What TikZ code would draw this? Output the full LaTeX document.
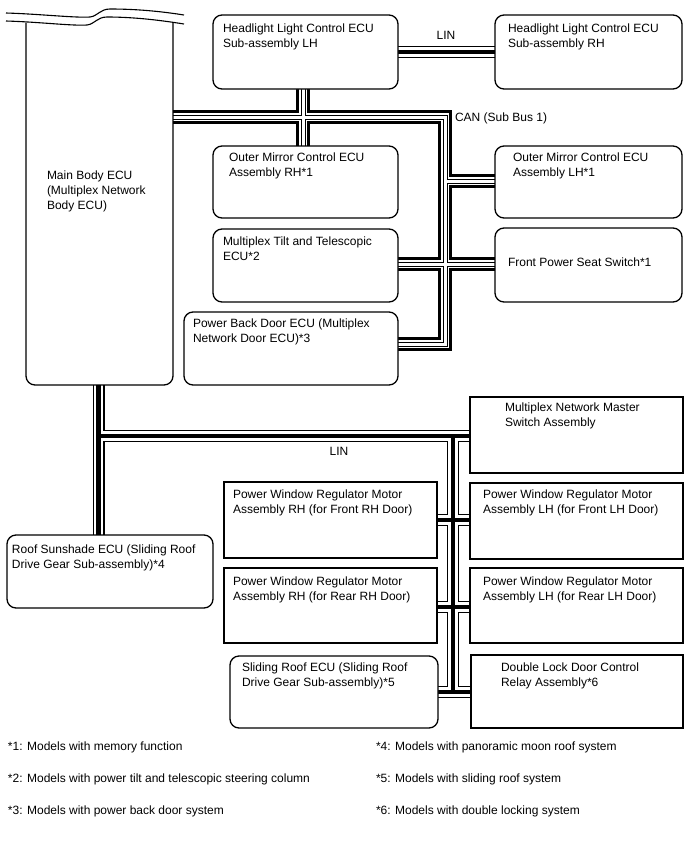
\documentclass[tikz,border=0pt]{standalone}
\usepackage{fontspec}
\setmainfont{Liberation Sans}
\usetikzlibrary{calc}
\pgfdeclarelayer{bg}
\pgfdeclarelayer{bus}
\pgfsetlayers{bg,bus,main}
\newcommand\canroutes[1]{%
  \draw[#1] (mb.east |- cT) -- (cT) -- (cB) -- (pbd.east |- cB);
  \draw[#1] (hlL.south -| cX) -- (omR.north -| cX);
  \draw[#1] (c1) -- (omL.west |- c1);
  \draw[#1] (tilt.east |- c2) -- (seat.west |- c2);
}
\newcommand\linroutes[1]{%
  \draw[#1] (hlL.east |- l0) -- (hlR.west |- l0);
  \draw[#1] (mb.south -| lA) -- (roof.north -| lA);
  \draw[#1] (lA) -- (master.west |- lA);
  \draw[#1] (lB) -- (lE);
  \draw[#1] (pwRF.east |- lF) -- (pwLF.west |- lF);
  \draw[#1] (pwRR.east |- lR) -- (pwLR.west |- lR);
  \draw[#1] (slide.east |- lE) -- (dlock.west |- lE);
}
\begin{document}
\begin{tikzpicture}[x=1pt,y=-1pt,
  box/.style={draw, line width=1.3, fill=white, inner sep=0, outer sep=0, anchor=north west},
  rbox/.style={box, rounded corners=9},
  txt/.style={anchor=base west, inner sep=0, outer sep=0, align=left, font=\fontsize{12}{15}\selectfont},
  lbl/.style={inner sep=0, outer sep=0, font=\fontsize{12}{15}\selectfont},
  note/.style={anchor=base west, inner sep=0, outer sep=0, font=\fontsize{12}{14}\selectfont}]
\begin{pgfonlayer}{bg}
\fill[white] (0,0) rectangle (688,852);
\end{pgfonlayer}
\useasboundingbox (0,0) rectangle (688,852);

% Main Body ECU
\node[draw=none, inner sep=0, outer sep=0, minimum width=147, minimum height=362, anchor=south west] (mb) at (26,385) {};
\draw[line width=1.3, rounded corners=9] (26,22.5) -- (mb.south west) -- (mb.south east) -- (173,23);
\draw[line width=1.1] (6,13) .. controls (40,14) and (75,18) .. (90,17) .. controls (98,16) and (100,9) .. (110,9) .. controls (140,9) and (165,12) .. (184,15);
\draw[line width=1.1] (6,21) .. controls (40,22) and (72,26) .. (87,25) .. controls (95,24) and (97,17) .. (107,17) .. controls (137,17) and (165,21) .. (184,24);
\node[txt] (mbt) at (47,209) {Main Body ECU\\(Multiplex Network\\Body ECU)};

% boxes
\node[rbox, minimum width=185, minimum height=74] (hlL) at (213,15) {};
\node[rbox, minimum width=187, minimum height=74] (hlR) at (495,15) {};
\node[rbox, minimum width=185, minimum height=72] (omR) at (213,146) {};
\node[rbox, minimum width=187, minimum height=72] (omL) at (495,146) {};
\node[rbox, minimum width=185, minimum height=73] (tilt) at (213,229) {};
\node[rbox, minimum width=187, minimum height=74] (seat) at (495,228) {};
\node[rbox, minimum width=214, minimum height=73] (pbd) at (184,312) {};
\node[box, minimum width=213, minimum height=76] (master) at (470,397) {};
\node[box, minimum width=213, minimum height=76] (pwRF) at (224,482) {};
\node[box, minimum width=213, minimum height=76] (pwLF) at (470,483) {};
\node[rbox, minimum width=206, minimum height=73] (roof) at (7,535) {};
\node[box, minimum width=213, minimum height=75] (pwRR) at (224,568) {};
\node[box, minimum width=213, minimum height=75] (pwLR) at (470,568) {};
\node[rbox, minimum width=208, minimum height=72] (slide) at (230,656) {};
\node[box, minimum width=212, minimum height=73] (dlock) at (471,655) {};

% texts (anchor = baseline of the last line)
\node[txt] (hlLt) at (223,47) {Headlight Light Control ECU\\Sub-assembly LH};
\node[txt] (hlRt) at (508,47) {Headlight Light Control ECU\\Sub-assembly RH};
\node[txt] (omRt) at (229,176) {Outer Mirror Control ECU\\Assembly RH*1};
\node[txt] (omLt) at (513,176) {Outer Mirror Control ECU\\Assembly LH*1};
\node[txt] (tiltt) at (223,260) {Multiplex Tilt and Telescopic\\ECU*2};
\node[txt] (seatt) at (508,266) {Front Power Seat Switch*1};
\node[txt] (pbdt) at (193,342) {Power Back Door ECU (Multiplex\\Network Door ECU)*3};
\node[txt] (mastert) at (505,426) {Multiplex Network Master\\Switch Assembly};
\node[txt] (pwRFt) at (233,513) {Power Window Regulator Motor\\Assembly RH (for Front RH Door)};
\node[txt] (pwLFt) at (483,513) {Power Window Regulator Motor\\Assembly LH (for Front LH Door)};
\node[txt] (rooft) at (12,568) {Roof Sunshade ECU (Sliding Roof\\Drive Gear Sub-assembly)*4};
\node[txt] (pwRRt) at (233,600) {Power Window Regulator Motor\\Assembly RH (for Rear RH Door)};
\node[txt] (pwLRt) at (483,600) {Power Window Regulator Motor\\Assembly LH (for Rear LH Door)};
\node[txt] (slidet) at (242,686) {Sliding Roof ECU (Sliding Roof\\Drive Gear Sub-assembly)*5};
\node[txt] (dlockt) at (501,686) {Double Lock Door Control\\Relay Assembly*6};

% bus labels
\node[lbl, anchor=base] (lin1) at (446,39) {LIN};
\node[lbl, anchor=base west] (can) at (455,121) {CAN (Sub Bus 1)};
\node[lbl, anchor=base] (lin2) at (339,455) {LIN};

% footnotes
\node[note] (n1) at (8,750) {*1: Models with memory function};
\node[note] (n2) at (8,782) {*2: Models with power tilt and telescopic steering column};
\node[note] (n3) at (8,814) {*3: Models with power back door system};
\node[note] (n4) at (376,750) {*4: Models with panoramic moon roof system};
\node[note] (n5) at (376,782) {*5: Models with sliding roof system};
\node[note] (n6) at (376,814) {*6: Models with double locking system};

% junction coordinates
\coordinate (cT) at (445,117);
\coordinate (cX) at (303,117);
\coordinate (cB) at (445,344);
\coordinate (c1) at (445,181);
\coordinate (c2) at (445,264);
\coordinate (l0) at (446,52);
\coordinate (lA) at (98.5,436);
\coordinate (lB) at (453,436);
\coordinate (lE) at (453,692);
\coordinate (lF) at (453,520);
\coordinate (lR) at (453,607);

\begin{pgfonlayer}{bus}
\canroutes{black, line width=14}
\canroutes{white, line width=8}
\canroutes{black, line width=5}
\canroutes{white, line width=3}
\linroutes{black, line width=12}
\linroutes{white, line width=9.6}
\linroutes{black, line width=4.5}
\end{pgfonlayer}
\end{tikzpicture}
\end{document}
